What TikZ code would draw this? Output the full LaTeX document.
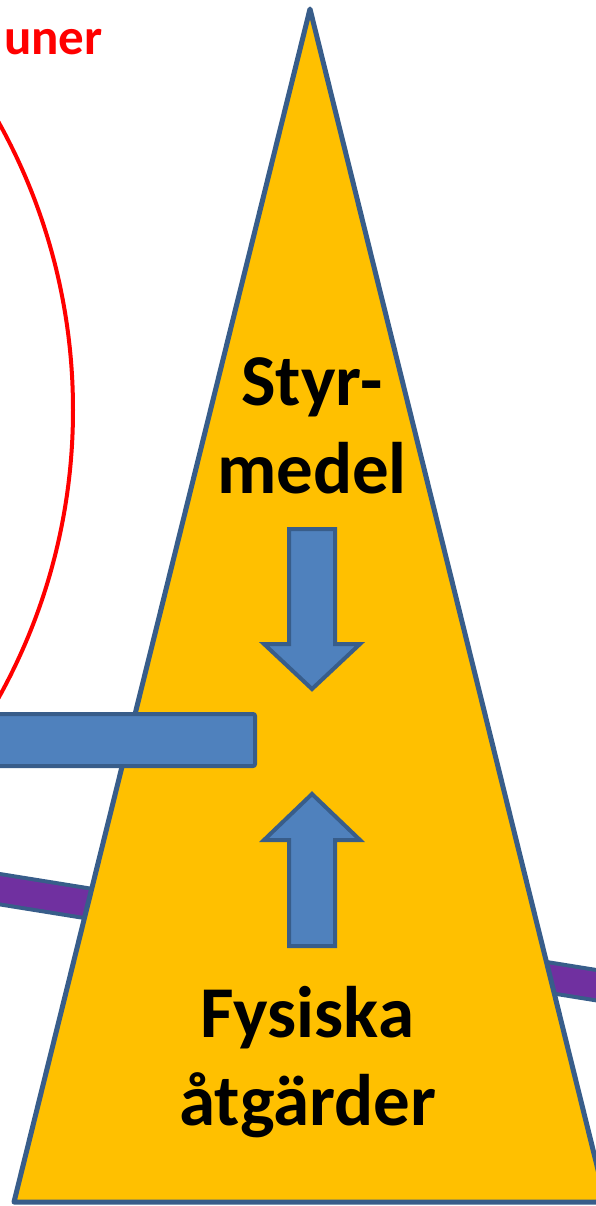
\documentclass[tikz,border=0pt]{standalone}
\usepackage{fontspec}
\setmainfont{Carlito}
\definecolor{outl}{HTML}{385D8A}
\definecolor{gold}{HTML}{FFC000}
\definecolor{bluef}{HTML}{4F81BD}
\definecolor{purp}{HTML}{7030A0}
\tikzset{
  arrowbox/.style={draw=outl, fill=bluef, line width=4pt, line join=miter},
  bigtext/.style={font=\fontsize{73}{88}\selectfont\bfseries, text=black, inner sep=0pt, anchor=base},
}
\begin{document}
\begin{tikzpicture}[x=1pt,y=-1pt]
\useasboundingbox (0,0) rectangle (596,1206);
\clip (0,0) rectangle (596,1206);
% red circle
\draw[red, line width=4pt] (-520,410) circle[radius=593];
\node[font=\fontsize{51}{60}\selectfont\bfseries, text=red, inner sep=0pt, anchor=base west] (rt) at (4,55) {uner};
% purple bar
\draw[outl, line width=34pt] (-20,886) -- (620,989);
\draw[purp, line width=26pt] (-20,886) -- (620,989);
% triangle
\draw[draw=outl, fill=gold, line width=5pt, line join=round] (310,9) -- (606,1202) -- (14,1202) -- cycle;
% blue bar
\draw[arrowbox, rounded corners=2pt] (-20,714) rectangle (255,766);
% arrows
\draw[arrowbox] (289,529) -- (335,529) -- (335,644) -- (360,644) -- (312,689) -- (264,644) -- (289,644) -- cycle;
\draw[arrowbox] (289,946) -- (335,946) -- (335,840) -- (360,840) -- (312,794) -- (264,840) -- (289,840) -- cycle;
% texts
\node[bigtext] (t1) at (312,405) {Styr-};
\node[bigtext] (t2) at (312,493) {medel};
\node[bigtext] (t3) at (307,1037) {Fysiska};
\node[bigtext] (t4) at (308,1125) {åtgärder};
\end{tikzpicture}
\end{document}
